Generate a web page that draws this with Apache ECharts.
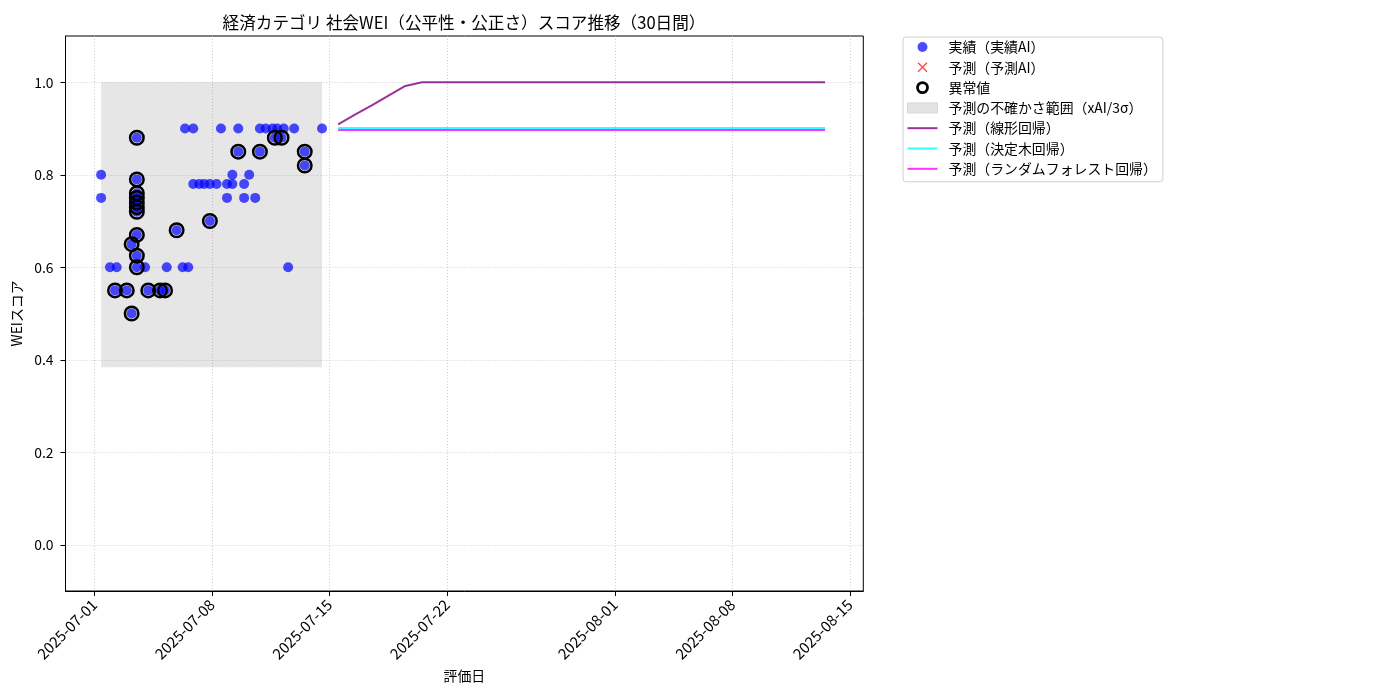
<!DOCTYPE html>
<html>
<head>
<meta charset="utf-8">
<script src="https://cdn.jsdelivr.net/npm/echarts@6/dist/echarts.min.js"></script>
<style>
  html, body { margin: 0; padding: 0; background: #fff; }
  #chart { width: 1400px; height: 700px; }
</style>
</head>
<body>
<div id="chart"></div>
<script>
// 実績データ（評価日時とスコア）
const actualDates = [
  '2025-07-01 09:36', '2025-07-01 09:36', '2025-07-01 22:19', '2025-07-02 05:31', '2025-07-02 07:55',
  '2025-07-02 22:19', '2025-07-03 05:17', '2025-07-03 05:17',
  '2025-07-03 12:43', '2025-07-03 12:43', '2025-07-03 12:43', '2025-07-03 12:43', '2025-07-03 12:43',
  '2025-07-03 12:43', '2025-07-03 12:43', '2025-07-03 12:43', '2025-07-03 12:43', '2025-07-03 12:43',
  '2025-07-04 00:29', '2025-07-04 05:02', '2025-07-04 21:50', '2025-07-05 05:02', '2025-07-05 07:26',
  '2025-07-05 21:36', '2025-07-06 06:14', '2025-07-06 09:36', '2025-07-06 14:10', '2025-07-06 21:22',
  '2025-07-06 21:22', '2025-07-07 06:00', '2025-07-07 12:58', '2025-07-07 21:07', '2025-07-07 21:07',
  '2025-07-08 06:43', '2025-07-08 12:58', '2025-07-08 21:36', '2025-07-08 21:36', '2025-07-09 05:17',
  '2025-07-09 05:17', '2025-07-09 13:41', '2025-07-09 13:41', '2025-07-09 22:05', '2025-07-09 22:05',
  '2025-07-10 05:17', '2025-07-10 13:55', '2025-07-10 20:38', '2025-07-10 20:38', '2025-07-11 05:02',
  '2025-07-11 14:38', '2025-07-11 18:00', '2025-07-11 21:22', '2025-07-12 03:36', '2025-07-12 06:43',
  '2025-07-12 12:58', '2025-07-12 21:36', '2025-07-13 12:43', '2025-07-13 12:43', '2025-07-14 13:26'
];
const actualValues = [
  0.80, 0.75, 0.60, 0.55, 0.60,
  0.55, 0.65, 0.50,
  0.88, 0.79, 0.76, 0.75, 0.74,
  0.73, 0.72, 0.67, 0.625, 0.60,
  0.60, 0.55, 0.55, 0.55, 0.60,
  0.68, 0.60, 0.90, 0.60, 0.90,
  0.78, 0.78, 0.78, 0.70, 0.78,
  0.78, 0.90, 0.78, 0.75, 0.80,
  0.78, 0.90, 0.85, 0.78, 0.75,
  0.80, 0.75, 0.90, 0.85, 0.90,
  0.90, 0.88, 0.90, 0.88, 0.90,
  0.60, 0.90, 0.85, 0.82, 0.90
];

// 異常値
const anomalyDates = [
  '2025-07-02 05:31', '2025-07-02 22:19', '2025-07-03 05:17', '2025-07-03 05:17',
  '2025-07-03 12:43', '2025-07-03 12:43', '2025-07-03 12:43', '2025-07-03 12:43', '2025-07-03 12:43',
  '2025-07-03 12:43', '2025-07-03 12:43', '2025-07-03 12:43', '2025-07-03 12:43', '2025-07-03 12:43',
  '2025-07-04 05:02', '2025-07-04 21:50', '2025-07-05 05:02', '2025-07-05 21:36', '2025-07-07 21:07',
  '2025-07-09 13:41', '2025-07-10 20:38', '2025-07-11 18:00', '2025-07-12 03:36',
  '2025-07-13 12:43', '2025-07-13 12:43'
];
const anomalyValues = [
  0.55, 0.55, 0.65, 0.50,
  0.88, 0.79, 0.76, 0.75, 0.74,
  0.73, 0.72, 0.67, 0.625, 0.60,
  0.55, 0.55, 0.55, 0.68, 0.70,
  0.85, 0.85, 0.88, 0.88,
  0.85, 0.82
];

// 予測（30日間）
const forecastDates = [
  '2025-07-15 12:30', '2025-07-16 12:30', '2025-07-17 12:30', '2025-07-18 12:30', '2025-07-19 12:30',
  '2025-07-20 12:30', '2025-07-21 12:30', '2025-07-22 12:30', '2025-07-23 12:30', '2025-07-24 12:30',
  '2025-07-25 12:30', '2025-07-26 12:30', '2025-07-27 12:30', '2025-07-28 12:30', '2025-07-29 12:30',
  '2025-07-30 12:30', '2025-07-31 12:30', '2025-08-01 12:30', '2025-08-02 12:30', '2025-08-03 12:30',
  '2025-08-04 12:30', '2025-08-05 12:30', '2025-08-06 12:30', '2025-08-07 12:30', '2025-08-08 12:30',
  '2025-08-09 12:30', '2025-08-10 12:30', '2025-08-11 12:30', '2025-08-12 12:30', '2025-08-13 12:30'
];
const linearPred = [
  0.909, 0.930, 0.950, 0.971, 0.992, 1.0, 1.0, 1.0, 1.0, 1.0,
  1.0, 1.0, 1.0, 1.0, 1.0, 1.0, 1.0, 1.0, 1.0, 1.0,
  1.0, 1.0, 1.0, 1.0, 1.0, 1.0, 1.0, 1.0, 1.0, 1.0
];
const treePred = [
  0.901, 0.901, 0.901, 0.901, 0.901, 0.901, 0.901, 0.901, 0.901, 0.901,
  0.901, 0.901, 0.901, 0.901, 0.901, 0.901, 0.901, 0.901, 0.901, 0.901,
  0.901, 0.901, 0.901, 0.901, 0.901, 0.901, 0.901, 0.901, 0.901, 0.901
];
const forestPred = [
  0.897, 0.897, 0.897, 0.897, 0.897, 0.897, 0.897, 0.897, 0.897, 0.897,
  0.897, 0.897, 0.897, 0.897, 0.897, 0.897, 0.897, 0.897, 0.897, 0.897,
  0.897, 0.897, 0.897, 0.897, 0.897, 0.897, 0.897, 0.897, 0.897, 0.897
];

// 不確かさ範囲
const bandRange = ['2025-07-01 09:36', '2025-07-14 13:26'];
const bandBounds = [0.384, 1.0];

// 軸の目盛
const xTicks = ['2025-07-01', '2025-07-08', '2025-07-15', '2025-07-22', '2025-08-01', '2025-08-08', '2025-08-15'];
const yTicks = [0.0, 0.2, 0.4, 0.6, 0.8, 1.0];
const xRange = ['2025-06-29 06:43', '2025-08-15 19:12'];

const toTime = s => new Date(s.length > 10 ? s.replace(' ', 'T') + ':00' : s + 'T00:00:00').getTime();
const zip = (ds, vs) => ds.map((d, i) => [toTime(d), vs[i]]);
const pad = n => (n < 10 ? '0' : '') + n;
const fmtDate = v => {
    const d = new Date(Math.round(v));
    return d.getFullYear() + '-' + pad(d.getMonth() + 1) + '-' + pad(d.getDate());
};

const FONT = '"Noto Sans CJK JP", "Noto Sans", sans-serif';
const FS = 13.9;
const xIcon = 'path://M1,0 L5,4 L9,0 L10,1 L6,5 L10,9 L9,10 L5,6 L1,10 L0,9 L4,5 L0,1 Z';
const lineIcon = 'path://M0,0 L30,0 L30,2 L0,2 Z';

const chart = echarts.init(document.getElementById('chart'));

const option = {
    backgroundColor: '#fff',
    textStyle: {fontFamily: FONT, color: '#000'},
    animation: false,
    title: {
        text: '経済カテゴリ 社会WEI（公平性・公正さ）スコア推移（30日間）',
        left: 459,
        top: 9,
        textAlign: 'center',
        textStyle: {fontFamily: FONT, fontSize: 16.6, fontWeight: 'normal', color: '#000'}
    },
    grid: {
        left: 65.5,
        right: 536.7,
        top: 36,
        bottom: 109,
        show: true,
        borderColor: '#000',
        borderWidth: 1,
        backgroundColor: 'transparent'
    },
    legend: {
        orient: 'vertical',
        left: 903,
        top: 37,
        padding: [3, 6, 6, 4],
        itemWidth: 30,
        itemHeight: 10,
        itemGap: 6.3,
        backgroundColor: '#fff',
        borderColor: '#d0d0d0',
        borderWidth: 1,
        borderRadius: 3,
        textStyle: {fontFamily: FONT, fontSize: FS, lineHeight: 14, color: '#000', padding: [0, 0, 0, 6]},
        data: [
            {name: '実績（実績AI）', icon: 'circle', itemStyle: {color: 'rgba(0,0,255,0.7)', opacity: 1}},
            {name: '予測（予測AI）', icon: xIcon, itemStyle: {color: 'rgba(255,0,0,0.7)', borderWidth: 0, opacity: 1}},
            {name: '異常値', icon: 'circle', itemStyle: {color: 'transparent', borderColor: '#000', borderWidth: 2.8, opacity: 1}},
            {name: '予測の不確かさ範囲（xAI/3σ）', icon: 'rect', itemStyle: {color: '#e3e3e3', borderColor: '#d6d6d6', borderWidth: 1}},
            {name: '予測（線形回帰）', icon: lineIcon, itemStyle: {color: 'rgba(128,0,128,0.8)', borderWidth: 0}},
            {name: '予測（決定木回帰）', icon: lineIcon, itemStyle: {color: 'rgba(0,255,255,0.8)', borderWidth: 0}},
            {name: '予測（ランダムフォレスト回帰）', icon: lineIcon, itemStyle: {color: 'rgba(255,0,255,0.8)', borderWidth: 0}}
        ]
    },
    xAxis: {
        type: 'value',
        min: toTime(xRange[0]),
        max: toTime(xRange[1]),
        name: '評価日',
        nameLocation: 'middle',
        nameGap: 78,
        nameTextStyle: {fontFamily: FONT, fontSize: FS, color: '#000'},
        axisLine: {show: true, onZero: false, lineStyle: {color: '#000', width: 1}},
        axisTick: {show: true, length: 5, lineStyle: {color: '#000'}, customValues: xTicks.map(toTime)},
        axisLabel: {
            rotate: 45,
            margin: 11,
            fontSize: 15,
            fontFamily: FONT,
            color: '#000',
            customValues: xTicks.map(toTime),
            formatter: fmtDate
        },
        splitLine: {show: true, lineStyle: {color: '#c0c0c0', type: [1, 2], width: 0.8}}
    },
    yAxis: {
        type: 'value',
        min: -0.1,
        max: 1.1,
        name: 'WEIスコア',
        nameLocation: 'middle',
        nameGap: 39,
        nameTextStyle: {fontFamily: FONT, fontSize: FS, color: '#000'},
        axisLine: {show: true, onZero: false, lineStyle: {color: '#000', width: 1}},
        axisTick: {show: true, length: 5, lineStyle: {color: '#000'}, customValues: yTicks},
        axisLabel: {
            margin: 12,
            fontSize: FS,
            fontFamily: FONT,
            color: '#000',
            customValues: yTicks,
            formatter: v => v.toFixed(1)
        },
        splitLine: {show: true, lineStyle: {color: '#c0c0c0', type: [1, 2], width: 0.8}}
    },
    series: [
        {
            name: '予測の不確かさ範囲（xAI/3σ）',
            type: 'line',
            data: [],
            z: 1,
            itemStyle: {color: '#e3e3e3'},
            markArea: {
                silent: true,
                itemStyle: {color: 'rgba(128,128,128,0.2)'},
                data: [[
                    {xAxis: toTime(bandRange[0]), yAxis: bandBounds[0]},
                    {xAxis: toTime(bandRange[1]), yAxis: bandBounds[1]}
                ]]
            }
        },
        {
            name: '実績（実績AI）',
            type: 'scatter',
            data: zip(actualDates, actualValues),
            symbol: 'circle',
            symbolSize: 10,
            z: 3,
            itemStyle: {color: 'rgba(0,0,255,0.7)', opacity: 1}
        },
        {
            name: '予測（予測AI）',
            type: 'scatter',
            data: [],
            symbol: xIcon,
            symbolSize: 10,
            itemStyle: {color: 'rgba(255,0,0,0.7)', opacity: 1}
        },
        {
            name: '異常値',
            type: 'scatter',
            data: zip(anomalyDates, anomalyValues),
            symbol: 'circle',
            symbolSize: 13.5,
            z: 4,
            itemStyle: {color: 'transparent', borderColor: '#000', borderWidth: 2.5, opacity: 1}
        },
        {
            name: '予測（線形回帰）',
            type: 'line',
            data: zip(forecastDates, linearPred),
            showSymbol: false,
            symbol: 'none',
            z: 5,
            itemStyle: {color: 'rgba(128,0,128,0.8)'},
            lineStyle: {color: 'rgba(128,0,128,0.8)', width: 2}
        },
        {
            name: '予測（決定木回帰）',
            type: 'line',
            data: zip(forecastDates, treePred),
            showSymbol: false,
            symbol: 'none',
            z: 5,
            itemStyle: {color: 'rgba(0,255,255,0.8)'},
            lineStyle: {color: 'rgba(0,255,255,0.8)', width: 2}
        },
        {
            name: '予測（ランダムフォレスト回帰）',
            type: 'line',
            data: zip(forecastDates, forestPred),
            showSymbol: false,
            symbol: 'none',
            z: 5,
            itemStyle: {color: 'rgba(255,0,255,0.8)'},
            lineStyle: {color: 'rgba(255,0,255,0.8)', width: 2}
        }
    ]
};

chart.setOption(option);
</script>
</body>
</html>
